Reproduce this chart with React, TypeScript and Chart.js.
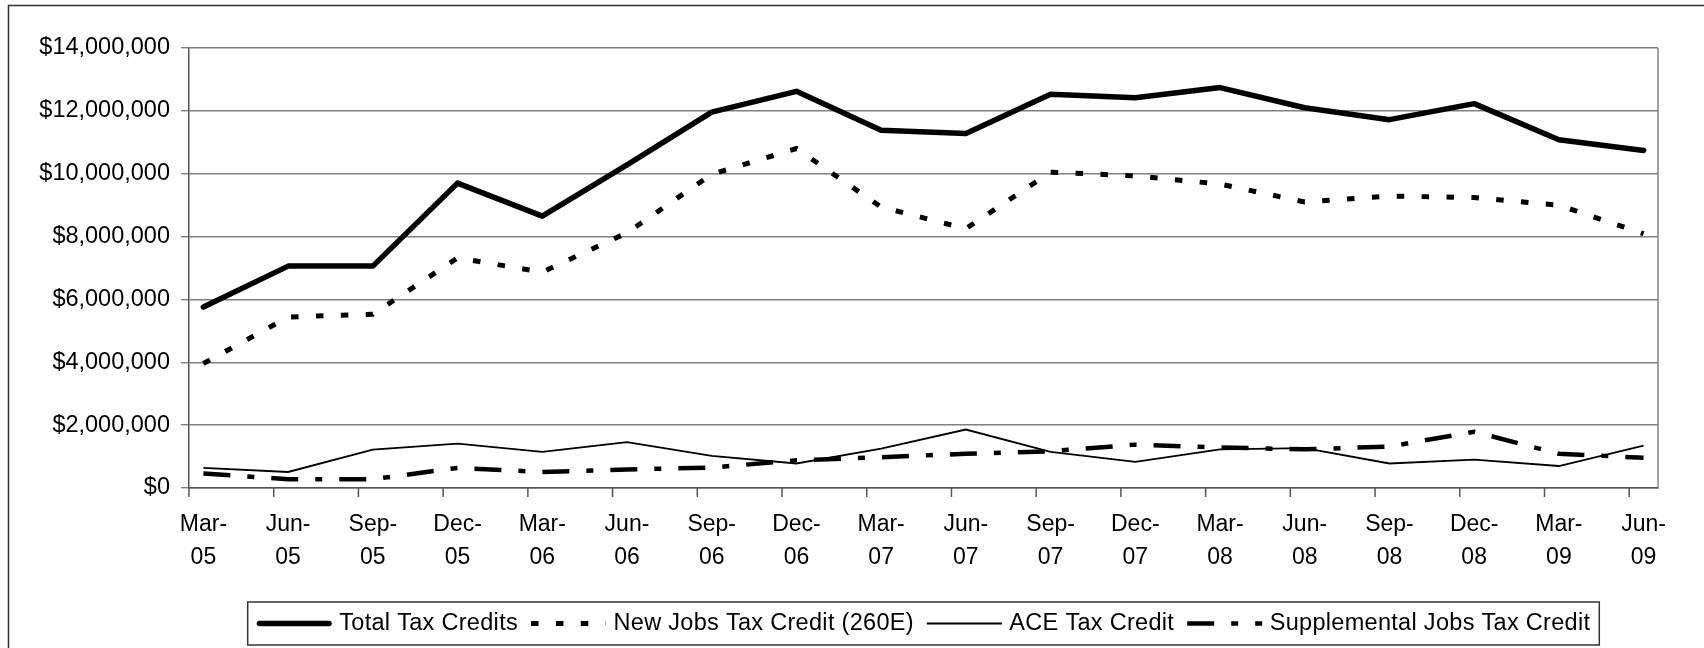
import React, { useEffect, useRef } from 'react';
import { Chart, registerables } from 'chart.js';

Chart.register(...registerables);

const categories = [
  'Mar-05', 'Jun-05', 'Sep-05', 'Dec-05', 'Mar-06', 'Jun-06', 'Sep-06', 'Dec-06', 'Mar-07',
  'Jun-07', 'Sep-07', 'Dec-07', 'Mar-08', 'Jun-08', 'Sep-08', 'Dec-08', 'Mar-09', 'Jun-09',
];

const totalTaxCredits = [
  5760000, 7060000, 7060000, 9700000, 8650000, 10280000, 11960000, 12620000, 11380000,
  11280000, 12530000, 12420000, 12740000, 12100000, 11720000, 12230000, 11080000, 10740000,
];

const newJobsTaxCredit = [
  3960000, 5440000, 5530000, 7320000, 6870000, 8120000, 9980000, 10800000, 8940000,
  8250000, 10050000, 9930000, 9670000, 9100000, 9290000, 9240000, 9000000, 8090000,
];

const aceTaxCredit = [
  640000, 510000, 1220000, 1410000, 1150000, 1460000, 1020000, 780000, 1250000,
  1860000, 1150000, 830000, 1230000, 1270000, 780000, 900000, 700000, 1350000,
];

const supplementalJobsTaxCredit = [
  460000, 280000, 280000, 640000, 510000, 590000, 650000, 880000, 980000,
  1090000, 1170000, 1380000, 1290000, 1230000, 1320000, 1790000, 1090000, 960000,
];

const seriesNames = [
  'Total Tax Credits',
  'New Jobs Tax Credit (260E)',
  'ACE Tax Credit',
  'Supplemental Jobs Tax Credit',
];

const yTickValues = [0, 2000000, 4000000, 6000000, 8000000, 10000000, 12000000, 14000000];

const FONT = "'Liberation Sans', Arial, Helvetica, sans-serif";
const TICK_SHIFT = 0.17;

const framePlugin = {
  id: 'frameAndExtras',
  afterDraw(chart: any) {
    const ctx = chart.ctx as CanvasRenderingContext2D;
    const area = chart.chartArea;
    const xScale = chart.scales.x;
    ctx.save();

    // right border of plot area
    ctx.strokeStyle = '#858585';
    ctx.lineWidth = 1.5;
    ctx.beginPath();
    ctx.moveTo(area.right, area.top);
    ctx.lineTo(area.right, area.bottom);
    ctx.stroke();

    // x-axis tick marks (between category labels)
    ctx.strokeStyle = '#555';
    ctx.lineWidth = 1.5;
    for (let i = 0; i < categories.length; i++) {
      const px = xScale.getPixelForValue(i - TICK_SHIFT);
      ctx.beginPath();
      ctx.moveTo(px, area.bottom);
      ctx.lineTo(px, area.bottom + 9);
      ctx.stroke();
    }

    // outer frame
    ctx.strokeStyle = '#333';
    ctx.lineWidth = 1.5;
    ctx.strokeRect(8.5, 5.5, chart.width + 50, chart.height + 50);

    // legend
    ctx.font = `23.5px ${FONT}`;
    (ctx as any).letterSpacing = '0.3px';
    const datasets = chart.data.datasets;
    const widths = datasets.map((d: any) => ctx.measureText(d.label).width);
    const sampleW = 75;
    const textGap = 7.5;
    const itemGap = 13;
    const pad = 9;
    let total = pad * 2 + itemGap * (datasets.length - 1);
    widths.forEach((w: number) => (total += sampleW + textGap + w));
    const cx = (area.left + area.right) / 2;
    const boxLeft = cx - total / 2;
    const boxTop = area.bottom + 114;
    const boxH = 43;
    const cy = boxTop + boxH / 2;

    ctx.strokeStyle = '#333';
    ctx.lineWidth = 1.5;
    ctx.strokeRect(boxLeft, boxTop, total, boxH);

    let x = boxLeft + pad;
    datasets.forEach((d: any, i: number) => {
      ctx.save();
      ctx.strokeStyle = d.borderColor;
      ctx.lineWidth = d.borderWidth;
      ctx.lineCap = d.borderCapStyle || 'butt';
      ctx.setLineDash(d.borderDash || []);
      const capPad = ctx.lineCap === 'round' ? d.borderWidth / 2 : 0;
      ctx.beginPath();
      ctx.moveTo(x + capPad, cy);
      ctx.lineTo(x + sampleW - capPad, cy);
      ctx.stroke();
      ctx.restore();
      x += sampleW + textGap;
      ctx.fillStyle = '#000';
      ctx.textBaseline = 'middle';
      ctx.textAlign = 'left';
      ctx.fillText(d.label, x, cy);
      x += widths[i] + itemGap;
    });

    ctx.restore();
  },
};

export default function App() {
  const canvasRef = useRef<HTMLCanvasElement>(null);

  useEffect(() => {
    const canvas = canvasRef.current;
    if (!canvas) return;
    const toPoints = (arr: number[]) => arr.map((v, i) => ({ x: i, y: v }));

    const chart = new Chart(canvas, {
      type: 'line',
      data: {
        datasets: [
          {
            label: seriesNames[0],
            data: toPoints(totalTaxCredits),
            borderColor: '#000',
            borderWidth: 5.5,
            borderCapStyle: 'round',
            borderJoinStyle: 'round',
            pointRadius: 0,
            tension: 0,
          },
          {
            label: seriesNames[1],
            data: toPoints(newJobsTaxCredit),
            borderColor: '#000',
            borderWidth: 5,
            borderDash: [7.5, 17.4],
            pointRadius: 0,
            tension: 0,
          },
          {
            label: seriesNames[2],
            data: toPoints(aceTaxCredit),
            borderColor: '#000',
            borderWidth: 1.8,
            pointRadius: 0,
            tension: 0,
          },
          {
            label: seriesNames[3],
            data: toPoints(supplementalJobsTaxCredit),
            borderColor: '#000',
            borderWidth: 4.5,
            borderDash: [27, 17, 7, 17],
            pointRadius: 0,
            tension: 0,
          },
        ] as any,
      },
      options: {
        responsive: false,
        animation: false,
        devicePixelRatio: 1,
        layout: { padding: { top: 48, right: 46, left: 0, bottom: 60 } },
        plugins: {
          legend: { display: false },
          tooltip: { enabled: false },
          title: { display: false },
        },
        scales: {
          x: {
            type: 'linear',
            min: -TICK_SHIFT,
            max: categories.length - 1 + TICK_SHIFT,
            afterBuildTicks: (scale: any) => {
              scale.ticks = categories.map((_, i) => ({ value: i }));
            },
            afterFit: (scale: any) => {
              scale.height = 100;
            },
            grid: { display: false, drawTicks: false },
            border: { display: true, color: '#555', width: 1.5 },
            ticks: {
              autoSkip: false,
              maxRotation: 0,
              minRotation: 0,
              padding: 20,
              color: '#000',
              font: { family: FONT, size: 23, lineHeight: 1.45 },
              callback: (v: any) => {
                const c = categories[Math.round(Number(v))];
                if (!c) return '';
                const [m, y] = c.split('-');
                return [m + '-', y];
              },
            },
          },
          y: {
            min: 0,
            max: 14000000,
            afterBuildTicks: (scale: any) => {
              scale.ticks = yTickValues.map((v) => ({ value: v }));
            },
            afterFit: (scale: any) => {
              scale.width = 189;
            },
            grid: { color: '#808080', lineWidth: 1.4, tickLength: 8, drawTicks: true },
            border: { display: true, color: '#555', width: 1.5 },
            ticks: {
              padding: 11,
              color: '#000',
              font: { family: FONT, size: 23.5 },
              callback: (v: any) => '$' + Number(v).toLocaleString('en-US'),
            },
          },
        },
      } as any,
      plugins: [framePlugin],
    });

    return () => chart.destroy();
  }, []);

  return (
    <div style={{ position: 'absolute', left: 0, top: 0, width: 1704, height: 648, background: '#fff', overflow: 'hidden' }}>
      <canvas ref={canvasRef} width={1704} height={648} style={{ display: 'block', width: 1704, height: 648 }} />
    </div>
  );
}
